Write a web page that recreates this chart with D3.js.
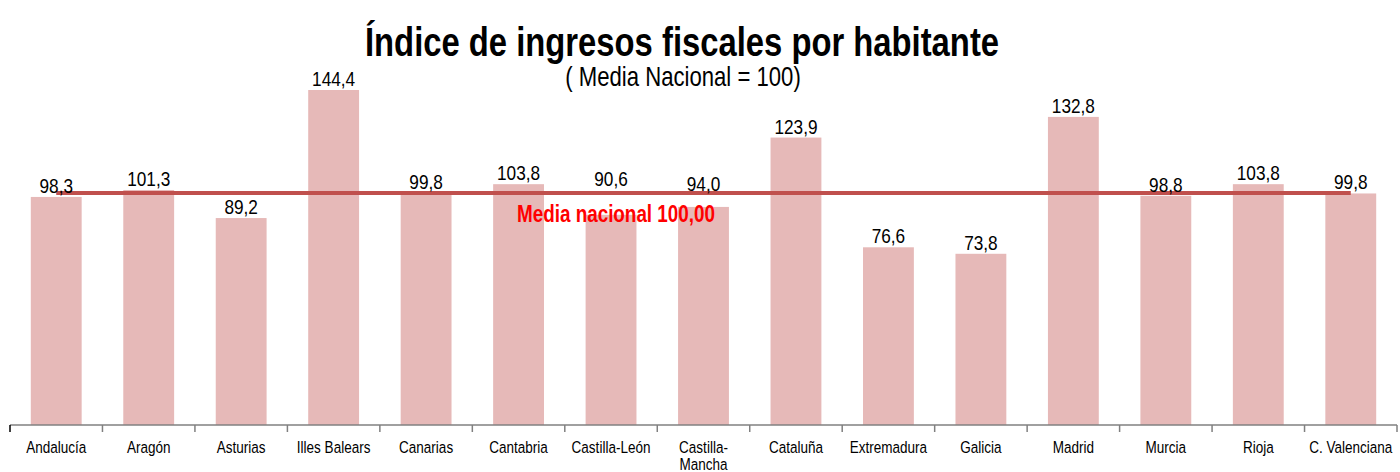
<!DOCTYPE html>
<html>
<head>
<meta charset="utf-8">
<script src="https://cdn.jsdelivr.net/npm/d3@7"></script>
<style>
  body { margin: 0; background: #fff; }
  text { font-family: "Liberation Sans", Arial, sans-serif; }
</style>
</head>
<body>
<script>
var width = 1400,
    height = 472;

// data
var regions = ["Andalucía", "Aragón", "Asturias", "Illes Balears", "Canarias", "Cantabria",
  "Castilla-León", "Castilla-Mancha", "Cataluña", "Extremadura", "Galicia", "Madrid",
  "Murcia", "Rioja", "C. Valenciana"];
var values = [98.3, 101.3, 89.2, 144.4, 99.8, 103.8, 90.6, 94.0, 123.9, 76.6, 73.8, 132.8,
  98.8, 103.8, 99.8];
var media = 100;

// labels lifted off their bar so they clear the "Media nacional" text
var lift = {"Castilla-León": 25, "Castilla-Mancha": 12};

var margin = {left: 10, right: 3, bottom: 47};
var baseY = height - margin.bottom;
var narrow = 0.82; // no Arial Narrow here, so squeeze Liberation Sans

var svg = d3.select("body").append("svg")
    .attr("width", width)
    .attr("height", height);

var x = d3.scaleBand()
    .domain(regions)
    .range([margin.left, width - margin.right])
    .paddingInner(0.45)
    .paddingOuter(0.225);

var y = d3.scaleLinear()
    .domain([0, 100])
    .range([baseY, baseY - 232]);

var fmt = function(v) { return d3.format(".1f")(v).replace(".", ","); };

function place(px, py) {
  return "translate(" + px + "," + py + ") scale(" + narrow + ",1)";
}

// bars
svg.selectAll(".bar")
  .data(values)
  .enter().append("rect")
    .attr("class", "bar")
    .attr("x", function(d, i) { return x(regions[i]); })
    .attr("y", function(d) { return y(d); })
    .attr("width", x.bandwidth())
    .attr("height", function(d) { return baseY - y(d); })
    .attr("fill", "#e6b9b8");

// mean line
svg.append("line")
    .attr("x1", x(regions[0]) + x.bandwidth() / 2)
    .attr("x2", x(regions[regions.length - 1]) + x.bandwidth() / 2)
    .attr("y1", y(media))
    .attr("y2", y(media))
    .attr("stroke", "#c0504d")
    .attr("stroke-width", 4);

// value labels
svg.selectAll(".val")
  .data(values)
  .enter().append("text")
    .attr("class", "val")
    .attr("transform", function(d, i) {
      return place(x(regions[i]) + x.bandwidth() / 2, y(d) - 4 - (lift[regions[i]] || 0));
    })
    .attr("text-anchor", "middle")
    .attr("font-size", 21)
    .attr("fill", "#000")
    .text(fmt);

svg.append("text")
    .attr("transform", place(616, y(media) + 29))
    .attr("text-anchor", "middle")
    .attr("font-size", 23)
    .attr("font-weight", "bold")
    .attr("fill", "#ff0000")
    .text("Media nacional " + d3.format(".2f")(media).replace(".", ","));

// x axis
var axis = svg.append("g").attr("class", "axis");
axis.append("line")
    .attr("x1", margin.left).attr("x2", width - margin.right)
    .attr("y1", baseY).attr("y2", baseY)
    .attr("stroke", "#808080").attr("stroke-width", 1.5);
axis.selectAll(".tick")
  .data(d3.range(regions.length + 1))
  .enter().append("line")
    .attr("x1", function(i) { return margin.left + i * x.step(); })
    .attr("x2", function(i) { return margin.left + i * x.step(); })
    .attr("y1", baseY).attr("y2", baseY + 7)
    .attr("stroke", function(i) { return i == 0 ? "#000" : "#808080"; })
    .attr("stroke-width", 1.5);

var labels = axis.selectAll(".lab")
  .data(regions)
  .enter().append("text")
    .attr("class", "lab")
    .attr("transform", function(d) { return place(x(d) + x.bandwidth() / 2, baseY + 28); })
    .attr("text-anchor", "middle")
    .attr("font-size", 16.5)
    .attr("fill", "#000");

labels.each(function(d) {
  var parts = d == "Castilla-Mancha" ? ["Castilla-", "Mancha"] : [d];
  var t = d3.select(this);
  parts.forEach(function(p, j) {
    t.append("tspan")
      .attr("x", 0)
      .attr("dy", j == 0 ? 0 : 17)
      .text(p);
  });
});

// titles
svg.append("text")
    .attr("transform", place(682, 56))
    .attr("text-anchor", "middle")
    .attr("font-size", 40)
    .attr("font-weight", "bold")
    .text("Índice de ingresos fiscales por habitante");

svg.append("text")
    .attr("transform", place(683, 86))
    .attr("text-anchor", "middle")
    .attr("font-size", 27)
    .text("( Media Nacional = 100)");
</script>
</body>
</html>
